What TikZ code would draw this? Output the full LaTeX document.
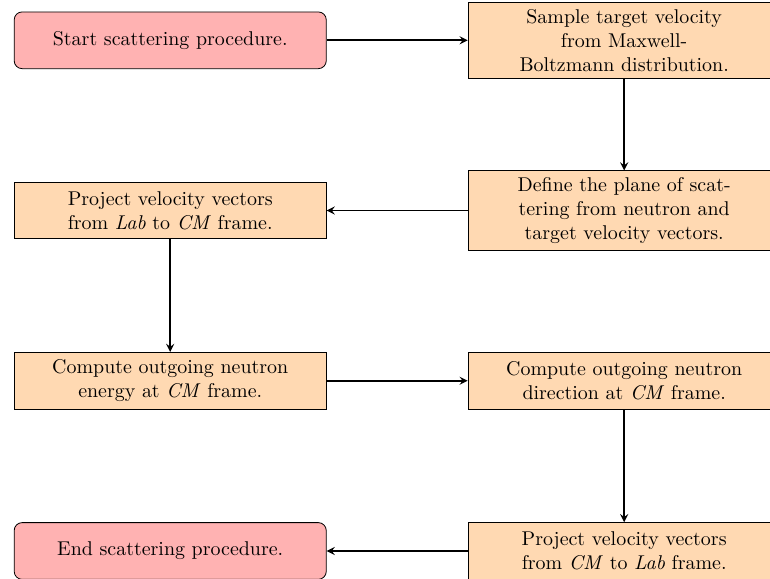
\documentclass[tikz,border=0pt]{standalone}
\usepackage{amsmath}
\usepackage{tikz}
\usetikzlibrary{arrows}

\begin{document}
\begin{tikzpicture}[
  startstop/.style={rectangle,rounded corners,minimum width=5.5cm,minimum height=1cm,align=center,draw=black,fill=red!30},
  process/.style={rectangle,minimum width=5.5cm,minimum height=1cm,align=center,draw=black,fill=orange!30},
  arrow/.style={thick,->,>=stealth}]
\useasboundingbox (-3,0.71) rectangle (10.57,-9.48);
\node[startstop] (start) at (0,0) {Start scattering procedure.};
\node[process] (sample) at (8,0) {Sample target velocity\\from Maxwell-\\Boltzmann distribution.};
\node[process] (plane) at (8,-3) {Define the plane of scat-\\tering from neutron and\\target velocity vectors.};
\node[process] (projcm) at (0,-3) {Project velocity vectors\\from \textit{Lab} to \textit{CM} frame.};
\node[process] (energy) at (0,-6) {Compute outgoing neutron\\energy at \textit{CM} frame.};
\node[process] (direction) at (8,-6) {Compute outgoing neutron\\direction at \textit{CM} frame.};
\node[process] (projlab) at (8,-9) {Project velocity vectors\\from \textit{CM} to \textit{Lab} frame.};
\node[startstop] (stop) at (0,-9) {End scattering procedure.};
\draw[arrow] (start)--(sample);
\draw[arrow] (sample)--(plane);
\draw[arrow] (plane)--(projcm);
\draw[arrow] (projcm)--(energy);
\draw[arrow] (energy)--(direction);
\draw[arrow] (direction)--(projlab);
\draw[arrow] (projlab)--(stop);
\end{tikzpicture}
\end{document}
